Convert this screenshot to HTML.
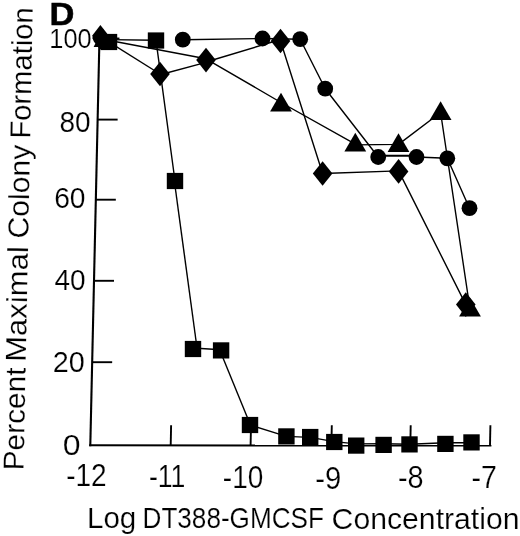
<!DOCTYPE html>
<html lang="en"><head><meta charset="utf-8"><title>Figure D</title>
<style>html,body{margin:0;padding:0;background:#fff;}body{width:520px;height:536px;overflow:hidden;}svg{display:block;}text{font-family:"Liberation Sans",sans-serif;fill:#000;}</style>
</head><body>
<svg width="520" height="536" viewBox="0 0 520 536">
<rect width="520" height="536" fill="#fff"/>
<g stroke="#000" stroke-width="2.1" fill="none" stroke-linecap="butt">
<path d="M99.51 36 L90.28 446.3"/>
<path d="M89.2 445.3 L491.4 445.5" stroke-width="2"/>
<path d="M99.45 38.5 L119.45 38.5" stroke-width="1.9"/>
<path d="M97.63 119.6 L117.63 119.6" stroke-width="1.9"/>
<path d="M95.83 199.7 L115.83 199.7" stroke-width="1.9"/>
<path d="M94.00 280.8 L114.00 280.8" stroke-width="1.9"/>
<path d="M92.17 362.2 L112.17 362.2" stroke-width="1.9"/>
<path d="M171.1 425.2 L170.7 445.6" stroke-width="1.9"/>
<path d="M251 425.2 L250.6 445.6" stroke-width="1.9"/>
<path d="M331.8 425.2 L331.40000000000003 445.6" stroke-width="1.9"/>
<path d="M410.7 425.2 L410.3 445.6" stroke-width="1.9"/>
<path d="M490.4 425.2 L490.0 445.6" stroke-width="1.9"/>
</g>
<g stroke="#000" stroke-width="1.4" fill="none" stroke-linejoin="round">
<polyline points="109,39.6 156,40.3 175,181"/>
<polyline points="175.3,188 196.2,342"/>
<polyline points="193,348 221,349.7"/>
<polyline points="222,355.6 248.4,420"/>
<polyline points="250,425 286.4,436.4 310.2,437.4 334.3,441.6 356.2,443.9 383.6,443.7 409.5,444.2 445.4,442.8 471.5,442.8"/>
<polyline points="182.8,39.7 262.5,38.5 300.2,39.2 325.2,88.7 378.2,157"/>
<polyline points="378.2,157 416.5,157" stroke-width="2" transform="translate(0 -1.2)"/>
<polyline points="416.5,157 447.3,158.3 469.5,208.2"/>
<polyline points="100.4,36.6 160,74"/>
<polyline points="160,74.8 206,62.4"/>
<polyline points="206,62 280.5,39.5"/>
<polyline points="280.5,41 322.6,173.5 398.6,170.9 465.8,304.6"/>
<polyline points="103,39.3 206,58.8"/>
<polyline points="206,58.8 281,102.5 355.3,144.2"/>
<polyline points="355.3,144.9 398.5,144.4 440.6,112.5 470,309"/>
</g>
<g fill="#000" stroke="none">
<rect x="100.8" y="33.9" width="16.4" height="16.2"/>
<rect x="147.8" y="32.4" width="16.4" height="16.2"/>
<rect x="166.8" y="172.9" width="16.4" height="16.2"/>
<rect x="184.8" y="340.9" width="16.4" height="16.2"/>
<rect x="212.9" y="342.3" width="16.4" height="16.2"/>
<rect x="241.8" y="416.9" width="16.4" height="16.2"/>
<rect x="278.2" y="428.3" width="16.4" height="16.2"/>
<rect x="302.0" y="428.9" width="16.4" height="16.2"/>
<rect x="326.1" y="433.9" width="16.4" height="16.2"/>
<rect x="348.0" y="437.5" width="16.4" height="16.2"/>
<rect x="375.4" y="436.8" width="16.4" height="16.2"/>
<rect x="401.3" y="436.3" width="16.4" height="16.2"/>
<rect x="437.2" y="435.8" width="16.4" height="16.2"/>
<rect x="463.3" y="434.3" width="16.4" height="16.2"/>
<circle cx="182.8" cy="39.7" r="7.9"/>
<circle cx="262.5" cy="38.5" r="7.9"/>
<circle cx="300.2" cy="39.2" r="7.9"/>
<circle cx="325.2" cy="88.7" r="7.9"/>
<circle cx="378.2" cy="157" r="7.9"/>
<circle cx="416.5" cy="157" r="7.9"/>
<circle cx="447.3" cy="158.3" r="7.9"/>
<circle cx="469.5" cy="208.2" r="7.9"/>
<path d="M160 61.7L169.8 74L160 86.3L150.2 74Z"/>
<path d="M206 47.8L215.8 60.1L206 72.4L196.2 60.1Z"/>
<path d="M280.5 28.7L290.3 41L280.5 53.3L270.7 41Z"/>
<path d="M322.6 161.2L332.40000000000003 173.5L322.6 185.8L312.8 173.5Z"/>
<path d="M398.6 159.1L408.40000000000003 171.4L398.6 183.70000000000002L388.8 171.4Z"/>
<path d="M465.8 292.3L475.6 304.6L465.8 316.90000000000003L456.0 304.6Z"/>
<path d="M100.4 25.1L110.2 37.4L100.4 49.7L94 41.7L92.5 38.6L92.5 35.2Z"/>
<path d="M281 92.8L291.9 111.4L270.1 111.4Z"/>
<path d="M355.3 132.8L366.2 151.4L344.40000000000003 151.4Z"/>
<path d="M398.5 133.3L409.4 151.9L387.6 151.9Z"/>
<path d="M440.6 101.3L451.5 119.9L429.70000000000005 119.9Z"/>
<path d="M470 297.8L480.9 316.4L459.1 316.4Z"/>
<path d="M103 29L113.6 47L93.6 47Z"/>
</g>
<text x="49.4" y="25.3" font-size="31.8" textLength="24.95" lengthAdjust="spacingAndGlyphs" font-weight="bold" stroke="#000" stroke-width="0.5">D</text>
<text x="49.29" y="47.8" font-size="28.4" textLength="42.31" lengthAdjust="spacingAndGlyphs" stroke="#fff" stroke-width="0.2">100</text>
<text x="59.39" y="131.5" font-size="29.9" textLength="31.18" lengthAdjust="spacingAndGlyphs" stroke="#fff" stroke-width="0.2">80</text>
<text x="54.18" y="207.6" font-size="29.9" textLength="31.4" lengthAdjust="spacingAndGlyphs" stroke="#fff" stroke-width="0.2">60</text>
<text x="54.4" y="290.2" font-size="29.9" textLength="31.18" lengthAdjust="spacingAndGlyphs" stroke="#fff" stroke-width="0.2">40</text>
<text x="52.65" y="371.5" font-size="29.9" textLength="32.05" lengthAdjust="spacingAndGlyphs" stroke="#fff" stroke-width="0.2">20</text>
<text x="62.86" y="454.9" font-size="29.9" textLength="17.81" lengthAdjust="spacingAndGlyphs" stroke="#fff" stroke-width="0.2">0</text>
<text x="66.15" y="486.1" font-size="31.0" textLength="40.47" lengthAdjust="spacingAndGlyphs" stroke="#fff" stroke-width="0.2">-12</text>
<text x="148.91" y="487.3" font-size="31.0" textLength="36.49" lengthAdjust="spacingAndGlyphs" stroke="#fff" stroke-width="0.2">-11</text>
<text x="222.85" y="487.5" font-size="31.0" textLength="40.44" lengthAdjust="spacingAndGlyphs" stroke="#fff" stroke-width="0.2">-10</text>
<text x="315.29" y="488.6" font-size="31.0" textLength="26.0" lengthAdjust="spacingAndGlyphs" stroke="#fff" stroke-width="0.2">-9</text>
<text x="398.0" y="487.5" font-size="31.0" textLength="25.66" lengthAdjust="spacingAndGlyphs" stroke="#fff" stroke-width="0.2">-8</text>
<text x="471.52" y="487.5" font-size="31.0" textLength="25.33" lengthAdjust="spacingAndGlyphs" stroke="#fff" stroke-width="0.2">-7</text>
<text><tspan x="86.95" y="528.4" font-size="29.0" textLength="49.38" lengthAdjust="spacingAndGlyphs" stroke="#fff" stroke-width="0.2">Log</tspan> <tspan x="142.55" y="528.4" font-size="29.0" textLength="181.31" lengthAdjust="spacingAndGlyphs" stroke="#fff" stroke-width="0.2">DT388-GMCSF</tspan> <tspan x="331.64" y="528.5" font-size="29.0" textLength="187.91" lengthAdjust="spacingAndGlyphs" stroke="#fff" stroke-width="0.2">Concentration</tspan></text>
<g transform="translate(23.6 468) rotate(-88.86)">
<text><tspan x="-2.57" y="0" font-size="29.0" textLength="102.88" lengthAdjust="spacingAndGlyphs" stroke="#fff" stroke-width="0.2">Percent</tspan> <tspan x="105.92" y="0" font-size="29.0" textLength="115.9" lengthAdjust="spacingAndGlyphs" stroke="#fff" stroke-width="0.2">Maximal</tspan> <tspan x="229.24" y="0" font-size="29.0" textLength="94.06" lengthAdjust="spacingAndGlyphs" stroke="#fff" stroke-width="0.2">Colony</tspan> <tspan x="329.39" y="0" font-size="29.0" textLength="131.27" lengthAdjust="spacingAndGlyphs" stroke="#fff" stroke-width="0.2">Formation</tspan></text>
</g>
</svg>
</body></html>
